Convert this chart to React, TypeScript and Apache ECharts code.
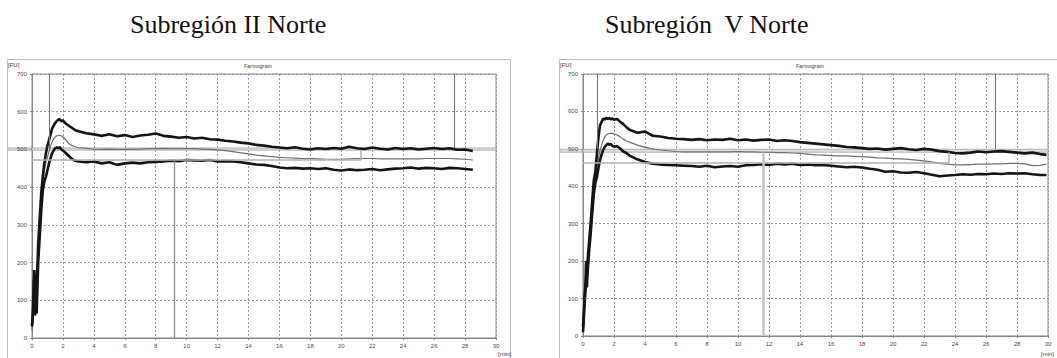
import React, { useEffect, useRef } from "react";
import * as echarts from "echarts";

// ---------- texts ----------
const panelTitles = ["Subregión II Norte", "Subregión  V Norte"];
const chartName = "Farinogram";
const yUnit = "[FU]";
const xUnit = "[min]";

// ---------- axes ----------
const xMax = 30;
const xStep = 2;
const yMax = 700;
const yStep = 100;

// ---------- left panel (Subregión II Norte) ----------
const timeL = [
  0, 0.05, 0.1, 0.15, 0.2, 0.25, 0.3, 0.35, 0.4,
  0.5, 0.6, 0.7, 0.8, 0.9, 1.0, 1.1, 1.2, 1.3, 1.4, 1.5, 1.6, 1.7, 1.8, 1.9, 2.0,
  2.2, 2.4, 2.6, 2.8, 3.0,
  3.5, 4, 4.5, 5, 5.5, 6, 6.5, 7, 7.5, 8,
  8.5, 9, 9.5, 10, 10.5, 11, 11.5, 12, 12.5, 13,
  13.5, 14, 14.5, 15, 15.5, 16, 16.5, 17, 17.5, 18,
  18.5, 19, 19.5, 20, 20.5, 21, 21.5, 22, 22.5, 23,
  23.5, 24, 24.5, 25, 25.5, 26, 26.5, 27, 27.5, 28,
  28.5,
];
const upperL = [
  30, 60, 140, 180, 110, 70, 130, 190, 250,
  320, 385, 430, 465, 490, 510, 525, 540, 555, 563, 570, 575, 579, 580, 574, 577,
  568, 562, 557, 551, 548,
  543, 540, 536, 540, 535, 538, 533, 537, 539, 542,
  536, 534, 531, 533, 529, 531, 527, 526, 523, 521,
  518, 516, 512, 510, 507, 505, 503, 506, 502, 500,
  503, 501, 504, 502, 507, 503, 501, 505, 502, 500,
  504, 501, 503, 500, 502, 504, 501, 503, 499, 500,
  496,
];
const meanL = [
  20, 50, 110, 150, 90, 100, 80, 150, 220,
  290, 355, 410, 445, 465, 480, 495, 508, 520, 528, 533, 536, 537, 537, 536, 533,
  525, 515, 510, 507, 505,
  503, 501, 500, 501, 500, 500, 500, 501, 502, 502,
  503, 502, 502, 502, 502, 501, 500, 499, 497, 494,
  491, 488, 485, 483, 481, 479, 478, 477, 476, 476,
  475, 474, 474, 474, 475, 476, 476, 476, 475, 475,
  475, 475, 475, 475, 476, 476, 476, 476, 475, 474,
  472,
];
const lowerL = [
  35, 55, 95, 120, 60, 110, 65, 130, 200,
  270, 340, 392, 415, 428, 445, 463, 477, 490, 497, 503, 505, 503, 506, 500, 497,
  490, 482, 474, 470, 468,
  466, 468, 463, 466, 459, 463, 465, 463, 466, 467,
  468, 470, 469, 472, 471, 470, 472, 468, 469, 468,
  466, 463, 460, 459, 456, 452, 450, 451, 449, 450,
  448, 450, 446, 444, 447, 445, 446, 448, 445, 447,
  449, 450, 452, 449, 451, 450, 448, 451, 450, 448,
  446,
];
const bandL = [498, 504];
const stabLowL = [472, 21.27];
const topLinesL = [
  [1.12, 500],
  [27.3, 503],
];
const dropLineL = [9.22, 472];

// ---------- right panel (Subregión V Norte) ----------
const timeR = [
  0, 0.05, 0.1, 0.15, 0.2, 0.25, 0.3, 0.35, 0.4,
  0.5, 0.6, 0.7, 0.8, 0.9, 1.0, 1.1, 1.2, 1.3, 1.4, 1.5, 1.6, 1.7, 1.8, 1.9, 2.0,
  2.2, 2.4, 2.6, 2.8, 3.0,
  3.5, 4, 4.5, 5, 5.5, 6, 6.5, 7, 7.5, 8,
  8.5, 9, 9.5, 10, 10.5, 11, 11.5, 12, 12.5, 13,
  13.5, 14, 14.5, 15, 15.5, 16, 16.5, 17, 17.5, 18,
  18.5, 19, 19.5, 20, 20.5, 21, 21.5, 22, 22.5, 23,
  23.5, 24, 24.5, 25, 25.5, 26, 26.5, 27, 27.5, 28,
  28.5, 29, 29.5, 29.9,
];
const upperR = [
  25, 60, 105, 131, 200, 158, 203, 230, 255,
  305, 365, 417, 440, 488, 532, 563, 572, 581, 578, 583, 580, 582, 579, 581, 578,
  580, 572, 566, 558, 551,
  543, 546, 535, 533, 529, 527, 526, 524, 526, 523,
  525, 524, 527, 523, 525, 522, 524, 525, 521, 523,
  521, 518, 516, 514, 512, 510, 508, 505, 504, 502,
  500, 501, 498, 500, 502, 499, 497, 500, 498, 494,
  492, 489, 488, 490, 493, 491, 493, 494, 492, 490,
  488, 490, 486, 484,
];
const meanR = [
  15, 50, 90, 120, 170, 140, 180, 210, 240,
  290, 345, 400, 425, 452, 475, 497, 510, 523, 532, 537, 540, 541, 542, 541, 540,
  537, 532, 526, 521, 518,
  510, 504, 500, 497, 495, 493, 492, 492, 492, 492,
  492, 492, 492, 493, 492, 492, 491, 491, 490, 490,
  489, 488, 486, 484, 483, 482, 481, 481, 480, 479,
  478, 476, 475, 474, 473, 472, 470, 468, 465, 461,
  459, 457, 457, 458, 459, 459, 460, 460, 461, 461,
  460, 455, 456, 459,
];
const lowerR = [
  10, 45, 85, 115, 150, 130, 175, 200, 230,
  275, 330, 380, 410, 425, 450, 470, 485, 497, 505, 510, 514, 511, 513, 508, 506,
  507, 501, 493, 489, 482,
  472, 465, 460, 458, 457, 456, 455, 454, 452, 455,
  451, 453, 454, 452, 456, 457, 459, 457, 460, 458,
  460, 457, 458, 456, 457, 455, 453, 451, 452, 450,
  447, 444, 439, 440, 437, 436, 438, 435, 431, 427,
  429, 430, 432, 431, 433, 432, 434, 433, 435, 434,
  435, 432, 430, 430,
];
const bandR = [491, 499];
const stabLowR = [462, 23.6];
const topLinesR = [
  [0.95, 500],
  [26.6, 499],
];
const dropLineR = [11.6, 490];

const zip = (t: number[], v: number[]) => t.map((x, i) => [x, v[i]]);

type Panel = {
  time: number[];
  upper: number[];
  mean: number[];
  lower: number[];
  band: number[];
  stabLow: number[];
  topLines: number[][];
  dropLine: number[];
  dropColor: string;
  dropWidth: number;
};

const panels: Panel[] = [
  {
    time: timeL, upper: upperL, mean: meanL, lower: lowerL, band: bandL,
    stabLow: stabLowL, topLines: topLinesL, dropLine: dropLineL,
    dropColor: "#8a8a8a", dropWidth: 1.3,
  },
  {
    time: timeR, upper: upperR, mean: meanR, lower: lowerR, band: bandR,
    stabLow: stabLowR, topLines: topLinesR, dropLine: dropLineR,
    dropColor: "#c4c4c4", dropWidth: 2.5,
  },
];

const grids = [
  { left: 32, top: 74, width: 464, height: 264, outerLeft: 7, outerRight: 510, unitX: 498 },
  { left: 583, top: 74, width: 465, height: 262, outerLeft: 559, outerRight: 1064, unitX: 1041 },
];

const smallFont = "Arial, 'Liberation Sans', sans-serif";

export default function App() {
  const ref = useRef<HTMLDivElement>(null);
  useEffect(() => {
    if (!ref.current) return;
    const chart = echarts.init(ref.current, null, { renderer: "svg" });

    const series: any[] = [];
    panels.forEach((p, gi) => {
      series.push({
        type: "line",
        xAxisIndex: gi,
        yAxisIndex: gi,
        data: [],
        silent: true,
        markArea: {
          silent: true,
          itemStyle: { color: "#dedede", borderColor: "#a8a8a8", borderWidth: 0.8 },
          data: [[{ coord: [0, p.band[0]] }, { coord: [xMax, p.band[1]] }]],
        },
        markLine: {
          silent: true,
          symbol: "none",
          label: { show: false },
          data: [
            [
              { coord: [0, p.stabLow[0]], lineStyle: { color: "#b0b0b0", width: 1.5, type: "solid" } },
              { coord: [p.stabLow[1], p.stabLow[0]] },
            ],
            [
              { coord: [p.stabLow[1], p.stabLow[0]], lineStyle: { color: "#b0b0b0", width: 1.5, type: "solid" } },
              { coord: [p.stabLow[1], p.band[0]] },
            ],
            [
              { coord: [p.dropLine[0], p.dropLine[1]], lineStyle: { color: p.dropColor, width: p.dropWidth, type: "solid" } },
              { coord: [p.dropLine[0], 0] },
            ],
            ...p.topLines.map((tl) => [
              { coord: [tl[0], yMax], lineStyle: { color: "#707070", width: 1, type: "solid" } },
              { coord: [tl[0], tl[1]] },
            ]),
          ],
        },
      });
      series.push({
        type: "line",
        xAxisIndex: gi,
        yAxisIndex: gi,
        data: zip(p.time, p.mean),
        showSymbol: false,
        silent: true,
        lineStyle: { color: "#6e6e6e", width: 1.2 },
        z: 3,
      });
      series.push({
        type: "line",
        xAxisIndex: gi,
        yAxisIndex: gi,
        data: zip(p.time, p.upper),
        showSymbol: false,
        silent: true,
        lineStyle: { color: "#141414", width: 2.6 },
        z: 4,
      });
      series.push({
        type: "line",
        xAxisIndex: gi,
        yAxisIndex: gi,
        data: zip(p.time, p.lower),
        showSymbol: false,
        silent: true,
        lineStyle: { color: "#141414", width: 2.6 },
        z: 4,
      });
    });

    const axisCommon = {
      type: "value",
      axisLine: { show: true, lineStyle: { color: "#858585" } },
      axisTick: { show: true, length: 2, lineStyle: { color: "#858585" } },
      splitLine: { show: true, lineStyle: { color: "#9a9a9a", type: [2, 2], width: 1 } },
      axisLabel: { fontSize: 6, color: "#4a4a4a", fontFamily: smallFont },
    };

    const baseGraphics: any[] = [];
    grids.forEach((g, gi) => {
      baseGraphics.push({
        type: "rect",
        silent: true,
        shape: { x: g.outerLeft + 0.5, y: 59.5, width: g.outerRight - g.outerLeft, height: 320 },
        style: { fill: "none", stroke: "#bdbdbd", lineWidth: 1 },
        z: -10,
      });
      baseGraphics.push({
        type: "text",
        silent: true,
        style: {
          text: yUnit,
          x: g.outerLeft + 1,
          y: 65,
          fontSize: 6,
          fontFamily: smallFont,
          fill: "#333",
          verticalAlign: "middle",
        },
      });
      baseGraphics.push({
        type: "text",
        silent: true,
        style: {
          text: chartName,
          x: gi === 0 ? 258 : 810,
          y: 65.5,
          fontSize: 5.5,
          fontFamily: smallFont,
          fill: "#444",
          align: "center",
          verticalAlign: "middle",
        },
      });
      baseGraphics.push({
        type: "text",
        silent: true,
        style: {
          text: xUnit,
          x: g.unitX,
          y: 351,
          fontSize: 6,
          fontFamily: smallFont,
          fill: "#444",
          verticalAlign: "top",
        },
      });
      baseGraphics.push({
        type: "text",
        silent: true,
        style: {
          text: panelTitles[gi],
          x: gi === 0 ? 130 : 605,
          y: 24,
          fontSize: 26,
          fontFamily: "'Liberation Serif', 'Times New Roman', serif",
          fill: "#111",
          verticalAlign: "middle",
          align: "left",
        },
      });
    });

    const option: any = {
      animation: false,
      backgroundColor: "#fff",
      grid: grids.map((g) => ({
        left: g.left,
        top: g.top,
        width: g.width,
        height: g.height,
        show: true,
        borderColor: "#858585",
        borderWidth: 1,
        backgroundColor: "#fff",
      })),
      xAxis: grids.map((_, gi) => ({
        ...axisCommon,
        gridIndex: gi,
        min: 0,
        max: xMax,
        interval: xStep,
        axisLabel: { ...axisCommon.axisLabel, margin: 5 },
      })),
      yAxis: grids.map((_, gi) => ({
        ...axisCommon,
        gridIndex: gi,
        min: 0,
        max: yMax,
        interval: yStep,
        axisLabel: { ...axisCommon.axisLabel, margin: 5 },
      })),
      series,
      graphic: baseGraphics,
    };
    chart.setOption(option);

    // band stubs that extend from the frame edge to the plot area
    const stubs: any[] = [];
    panels.forEach((p, gi) => {
      const yTop = chart.convertToPixel({ gridIndex: gi } as any, [0, p.band[1]]) as number[];
      const yBot = chart.convertToPixel({ gridIndex: gi } as any, [0, p.band[0]]) as number[];
      const g = grids[gi];
      stubs.push({
        type: "rect",
        silent: true,
        shape: { x: g.outerLeft + 1, y: yTop[1], width: yTop[0] - g.outerLeft - 1, height: yBot[1] - yTop[1] },
        style: { fill: "#dedede", stroke: "#a8a8a8", lineWidth: 0.8 },
        z: -5,
      });
    });
    chart.setOption({ graphic: [...baseGraphics, ...stubs] });

    return () => chart.dispose();
  }, []);
  return (
    <div
      ref={ref}
      style={{ position: "absolute", left: 0, top: 0, width: 1057, height: 358 }}
    />
  );
}
